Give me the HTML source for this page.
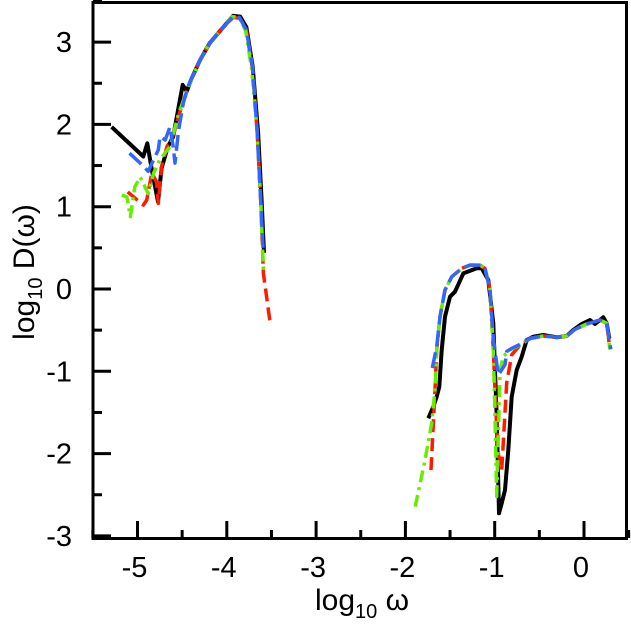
<!DOCTYPE html>
<html><head><meta charset="utf-8">
<style>
html,body{margin:0;padding:0;background:#fff;}
svg{display:block;font-family:"Liberation Sans",Arial,sans-serif;}
</style></head>
<body>
<svg id="chart" width="631" height="632" viewBox="0 0 631 632" xmlns="http://www.w3.org/2000/svg">
<g id="series"></g>
<rect x="93" y="2.5" width="533.5" height="536" fill="none" stroke="#000" stroke-width="3"/>
<g id="axes"></g>
<text x="362" y="610" font-size="30" text-anchor="middle">log<tspan font-size="20" dy="8">10</tspan><tspan dy="-8"> ω</tspan></text>
<text transform="translate(34,272) rotate(-90)" font-size="30" text-anchor="middle">log<tspan font-size="20" dy="8">10</tspan><tspan dy="-8"> D(ω)</tspan></text>
</svg>
<script>
const xTicks=[-5,-4,-3,-2,-1,0];
const yTicks=[-3,-2,-1,0,1,2,3];
const xTickLabels=["-5","-4","-3","-2","-1","0"];
const yTickLabels=["-3","-2","-1","0","1","2","3"];

const blackLeft=[[-5.29,1.97],[-4.935,1.61],[-4.89,1.77],[-4.84,1.45],[-4.77,1.06],[-4.73,1.47],[-4.66,1.73],[-4.6,1.85],[-4.546,2.17],[-4.494,2.48],[-4.449,2.40],[-4.393,2.56],[-4.30,2.78],[-4.19,2.99],[-4.04,3.18],[-3.93,3.32],[-3.85,3.31],[-3.78,3.18],[-3.71,2.70],[-3.65,1.90],[-3.61,1.08],[-3.583,0.44]];
const blackRight=[[-1.744,-1.571],[-1.688,-1.43],[-1.65,-1.309],[-1.62,-1.187],[-1.594,-0.741],[-1.557,-0.337],[-1.501,-0.094],[-1.445,-0.033],[-1.352,0.19],[-1.202,0.252],[-1.146,0.252],[-1.072,0.109],[-1.016,-0.417],[-0.978,-1.552],[-0.952,-2.725],[-0.922,-2.604],[-0.885,-2.442],[-0.848,-1.956],[-0.81,-1.309],[-0.754,-0.984],[-0.698,-0.823],[-0.642,-0.62],[-0.568,-0.58],[-0.456,-0.559],[-0.306,-0.587],[-0.194,-0.571],[-0.12,-0.498],[-0.026,-0.425],[0.067,-0.377],[0.123,-0.425],[0.179,-0.377],[0.216,-0.344],[0.254,-0.417],[0.283,-0.599]];

const redLeft=[[-5.11,1.18],[-4.935,1.02],[-4.897,1.08],[-4.84,1.41],[-4.786,1.30],[-4.767,1.04],[-4.73,1.49],[-4.67,1.73],[-4.6,1.87],[-4.52,2.17],[-4.45,2.40],[-4.39,2.56],[-4.30,2.78],[-4.19,2.99],[-4.04,3.18],[-3.93,3.30],[-3.86,3.29],[-3.78,3.14],[-3.71,2.66],[-3.66,1.90],[-3.62,1.08],[-3.59,0.19],[-3.516,-0.40]];
const redRight=[[-1.713,-2.2],[-1.669,-1.227],[-1.65,-0.74],[-1.613,-0.337],[-1.557,-0.012],[-1.48,0.15],[-1.37,0.25],[-1.277,0.29],[-1.165,0.29],[-1.109,0.25],[-1.053,-0.01],[-1.016,-0.74],[-0.985,-1.5],[-0.96,-2.0],[-0.922,-2.2],[-0.866,-1.14],[-0.81,-0.8],[-0.73,-0.7],[-0.605,-0.6],[-0.456,-0.571],[-0.306,-0.587],[-0.194,-0.571],[-0.10,-0.49],[0.03,-0.425],[0.179,-0.377],[0.254,-0.417],[0.29,-0.733]];

const greenLeft=[[-5.177,1.14],[-5.12,1.12],[-5.08,0.88],[-5.03,1.24],[-4.97,1.36],[-4.88,1.16],[-4.82,1.41],[-4.75,1.57],[-4.636,1.73],[-4.54,2.13],[-4.45,2.40],[-4.39,2.56],[-4.30,2.78],[-4.19,2.99],[-4.04,3.18],[-3.94,3.31],[-3.86,3.30],[-3.79,3.14],[-3.72,2.66],[-3.66,1.90],[-3.62,1.08],[-3.59,0.23]];
const greenRight=[[-1.89,-2.645],[-1.78,-2.08],[-1.706,-1.63],[-1.669,-1.227],[-1.65,-0.74],[-1.613,-0.337],[-1.557,-0.012],[-1.48,0.15],[-1.37,0.25],[-1.277,0.29],[-1.165,0.29],[-1.109,0.25],[-1.053,-0.01],[-1.016,-0.74],[-0.997,-1.55],[-0.978,-2.52],[-0.94,-0.98],[-0.904,-0.82],[-0.83,-0.74],[-0.717,-0.68],[-0.605,-0.6],[-0.456,-0.571],[-0.306,-0.587],[-0.194,-0.571],[-0.10,-0.49],[0.03,-0.425],[0.179,-0.377],[0.254,-0.417],[0.29,-0.733]];

const blueLeft=[[-5.09,1.65],[-4.97,1.53],[-4.88,1.43],[-4.767,1.69],[-4.748,1.85],[-4.69,1.81],[-4.636,1.97],[-4.6,1.73],[-4.58,1.53],[-4.54,1.93],[-4.487,2.26],[-4.42,2.50],[-4.30,2.78],[-4.19,2.99],[-4.04,3.18],[-3.93,3.31],[-3.86,3.30],[-3.78,3.15],[-3.71,2.68],[-3.66,1.90],[-3.62,1.08],[-3.595,0.5]];
const blueRight=[[-1.699,-0.96],[-1.65,-0.70],[-1.613,-0.337],[-1.557,-0.012],[-1.48,0.15],[-1.37,0.25],[-1.277,0.29],[-1.165,0.29],[-1.109,0.25],[-1.053,-0.01],[-1.016,-0.6],[-0.96,-1.045],[-0.885,-0.92],[-0.866,-0.76],[-0.81,-0.72],[-0.73,-0.68],[-0.605,-0.6],[-0.456,-0.571],[-0.306,-0.587],[-0.194,-0.571],[-0.10,-0.49],[0.03,-0.425],[0.179,-0.377],[0.254,-0.417],[0.3,-0.733]];

const NS="http://www.w3.org/2000/svg";
function sx(v){return 584+89.3*v;}
function sy(v){return 289-82.3*v;}
const sg=document.getElementById('series');
function drawSeries(pts,color,dash,name,w){
  const p=document.createElementNS(NS,'polyline');
  p.setAttribute('points',pts.map(d=>sx(d[0]).toFixed(1)+','+sy(d[1]).toFixed(1)).join(' '));
  p.setAttribute('fill','none');p.setAttribute('stroke',color);p.setAttribute('stroke-width',w||'3.5');
  p.setAttribute('stroke-linejoin','round');
  if(dash)p.setAttribute('stroke-dasharray',dash);
  
  
  sg.appendChild(p);
}
drawSeries(blackLeft,'#000','','black-series-left','4');
drawSeries(blackRight,'#000','','black-series-right','4');
drawSeries(redLeft,'#ff1a00','13 6','red-series-left');
drawSeries(redRight,'#ff1a00','13 6','red-series-right');
drawSeries(greenLeft,'#66ee00','12 5 3 5','green-series-left');
drawSeries(greenRight,'#66ee00','12 5 3 5','green-series-right');
drawSeries(blueLeft,'#3366ff','16 6','blue-series-left');
drawSeries(blueRight,'#3366ff','16 6','blue-series-right');

const ax=document.getElementById('axes');
function line(x1,y1,x2,y2,name){
  const l=document.createElementNS(NS,'line');
  l.setAttribute('x1',x1);l.setAttribute('y1',y1);l.setAttribute('x2',x2);l.setAttribute('y2',y2);
  l.setAttribute('stroke','#000');l.setAttribute('stroke-width','3');
  
  
  ax.appendChild(l);
}
function text(x,y,s,anchor,name){
  const t=document.createElementNS(NS,'text');
  t.setAttribute('x',x);t.setAttribute('y',y);t.setAttribute('font-size','29');t.setAttribute('text-anchor',anchor);
  t.textContent=s;
  
  
  ax.appendChild(t);
}
xTicks.forEach((v,i)=>{
  line(sx(v),538,sx(v),521,'x-tick');
  text(sx(v)-3,577,xTickLabels[i],'middle','x-tick-label');
  if(v<0.4) line(sx(v+0.5),538,sx(v+0.5),530,'x-minor-tick');
});
line(sx(-5.5),538,sx(-5.5),530,'x-minor-tick');
yTicks.forEach((v,i)=>{
  line(93,sy(v),111,sy(v),'y-tick');
  text(72,sy(v)+10,yTickLabels[i],'end','y-tick-label');
  if(v<3.4) line(93,sy(v+0.5),102,sy(v+0.5),'y-minor-tick');
});
</script>
</body></html>
